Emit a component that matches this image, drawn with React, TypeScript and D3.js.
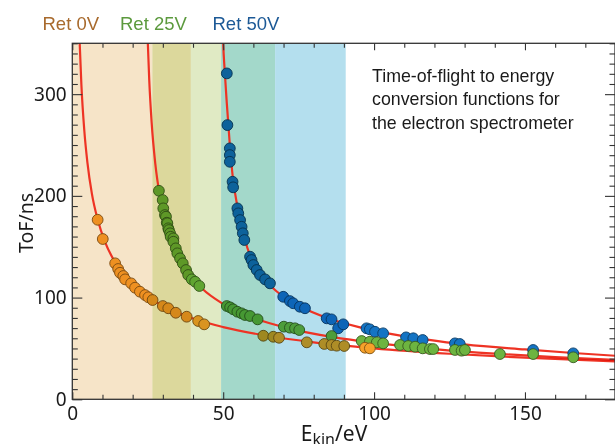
import React, { useEffect, useRef } from "react";
import * as d3 from "d3";

// legend / series names
const seriesNames = ["Ret 0V", "Ret 25V", "Ret 50V"];

// measured points [E_kin (eV), ToF (ns)]
const ret0Points: [number, number][] = [
	[8.4, 176.5], [10.1, 157.6], [14.2, 133.7], [15.2, 128.1], [15.8, 124.4], [16.9, 121.2],
	[17.5, 117.9], [19.5, 114], [20.8, 109.7], [22.4, 105.8], [24.1, 102.5], [25.2, 100.3],
	[26.6, 97.6], [30, 91.7], [31.8, 89.5], [34.3, 85.1], [37.9, 81.2], [41.7, 77],
	[43.7, 73.7], [63.3, 62.5], [66.6, 61.5], [68.5, 60.5], [77.7, 56], [83.5, 54.4],
	[85.9, 53.4], [87.6, 52.7], [90.1, 52.4], [97, 50.7], [98.6, 50.1]
];

const ret25Points: [number, number][] = [
	[28.7, 205], [29.95, 195.9], [30.15, 187.7], [30.7, 181.1], [31.05, 179.5], [31.3, 173.6],
	[31.5, 173], [31.8, 168.1], [32, 166.4], [32.4, 163.2], [32.6, 159.8], [33.5, 158.2],
	[33.5, 154.9], [34.3, 148.4], [34.8, 143.5], [35.7, 138.6], [36.6, 133.7], [37.7, 127.1],
	[38.4, 122.2], [39.6, 117.9], [40.7, 115.6], [42.1, 111.4], [51.2, 91.7], [52.3, 90.4],
	[53.3, 88.5], [54.7, 86.1], [56.1, 84.5], [57.2, 82.9], [58.9, 81.9], [61.4, 78.6],
	[70.1, 71.4], [72.1, 70.4], [73.8, 69.8], [75.2, 68.1], [85.9, 62.2], [95.9, 57.3],
	[98.6, 56.6], [100.9, 56], [103, 55], [108.6, 53.4], [111.3, 52.4], [113.6, 51.7],
	[116.1, 50.1], [118.5, 49.4], [119.6, 49.4], [126.8, 48.5], [129, 47.8], [130.1, 48.5],
	[141.7, 44.5], [152.7, 44.5], [166, 41.3]
];

const ret50Points: [number, number][] = [
	[51.2, 320.4], [51.4, 269.6], [52.2, 246.7], [52.2, 240.1], [52.2, 233.5], [53.1, 213.9],
	[53.3, 208.4], [54.7, 187.7], [55, 182.8], [55.6, 176.2], [56.1, 169.6], [56.5, 163.2],
	[57, 156.6], [58.9, 140.2], [59.4, 136.9], [60, 132], [61.1, 127.1], [62.2, 122.2],
	[63.9, 117.9], [65.5, 114], [69.9, 100.8], [72.1, 96.6], [73.2, 94.4], [75.4, 91],
	[77.1, 89.5], [84.3, 79.6], [85.9, 78.6], [88.1, 69.8], [89.8, 73.7], [97.5, 69.8],
	[98.6, 68.8], [100.3, 66.4], [103, 64.9], [110.6, 60.9], [113, 60], [116.1, 58.3],
	[126.8, 55], [128.4, 54.4], [152.7, 48.5], [166, 45.2]
];

// conversion curves, knots
const ret0Curve: [number, number][] = [
	[2.13, 380], [2.45, 350], [3, 310], [4, 263.5], [5, 233], [6.5, 202], [8.4, 176.8],
	[11, 153.6], [14, 135.6], [18, 119.2], [23, 105.2], [30, 91.9], [40, 79.4], [50, 71],
	[65, 62.2], [80, 56], [100, 50.1], [125, 44.8], [150, 40.9], [180, 37.3]
];
const ret25Curve: [number, number][] = [
	[24.74, 380], [25.03, 350], [25.5, 313.7], [26.3, 271.7], [27.5, 231.7], [29, 200],
	[31, 172.9], [34, 147.2], [38, 125.9], [43, 108.9], [50, 93.7], [60, 80], [72, 69.5],
	[86, 61.3], [100, 55.4], [120, 49.4], [140, 44.9], [160, 41.5], [180, 38.8]
];
const ret50Curve: [number, number][] = [
	[49.75, 375], [50, 350], [50.5, 323], [51.2, 291], [52.2, 250], [53.2, 218], [54.5, 193],
	[56, 172], [58, 149], [60.5, 132], [63.5, 119], [67, 108], [71, 99], [76, 90.5],
	[84, 80.5], [95, 71], [105, 64.5], [117, 59], [130, 54], [150, 49], [166, 45.5], [180, 42.8]
];

// shaded energy windows (overlaps already mixed)
const bandEdges = [0, 26.5, 39.3, 49.3, 67.2, 90.6];
const bandColors = ["#f6e4c8", "#dcd89c", "#e0eac4", "#a3d8ca", "#b4dfee"];

const xTicks = [0, 50, 100, 150];
const yTicks = [0, 100, 200, 300];

const noteLines = [
	"Time-of-flight to energy",
	"conversion functions for",
	"the electron spectrometer"
];

const pointColors = ["#f7a12a", "#6db440", "#1474c4"];
const legendColors = ["#a86a2d", "#5c9a3e", "#1c5996"];

function drawChart(node: SVGSVGElement) {
	while (node.firstChild) node.removeChild(node.firstChild);

	const left = 72.3, right = 615.5, top = 43.3, bottom = 399.3;
	const x = d3.scaleLinear().domain([0, 180]).range([left, right]);
	const y = d3.scaleLinear().domain([0, 350]).range([bottom, top]);

	const svg = d3.select(node);
	const tickFont = "'Noto Sans', sans-serif";
	const textFont = "'Liberation Sans', Arial, sans-serif";

	svg.append("defs").append("clipPath").attr("id", "plot-clip")
		.append("rect")
		.attr("x", left).attr("y", top)
		.attr("width", right - left).attr("height", bottom - top);

	// bands
	const bands = bandColors.map((c, i) => ({ from: bandEdges[i], to: bandEdges[i + 1], color: c }));
	svg.append("g")
		.selectAll("rect")
		.data(bands)
		.enter()
		.append("rect")
		.attr("x", d => x(d.from))
		.attr("y", top)
		.attr("width", d => x(d.to) - x(d.from))
		.attr("height", bottom - top)
		.attr("fill", d => d.color);

	const bandAt = (e: number) => {
		const b = bands.find(d => e >= d.from && e < d.to);
		return b ? b.color : "#ffffff";
	};
	const multiply = (a: string, b: string) => {
		const ca = d3.rgb(a), cb = d3.rgb(b);
		return d3.rgb((ca.r * cb.r) / 255, (ca.g * cb.g) / 255, (ca.b * cb.b) / 255);
	};

	// curves
	const line = d3.line<[number, number]>()
		.x(d => x(d[0]))
		.y(d => y(d[1]))
		.curve(d3.curveMonotoneX);

	svg.append("g")
		.attr("clip-path", "url(#plot-clip)")
		.selectAll("path")
		.data([ret0Curve, ret25Curve, ret50Curve])
		.enter()
		.append("path")
		.attr("d", d => line(d))
		.attr("fill", "none")
		.attr("stroke", "#ee3324")
		.attr("stroke-width", 2.2)
		.style("mix-blend-mode", "multiply");

	// points
	const series = [
		{ pts: ret50Points, color: pointColors[2] },
		{ pts: ret25Points, color: pointColors[1] },
		{ pts: ret0Points, color: pointColors[0] }
	];
	series.forEach(s => {
		svg.append("g")
			.selectAll("circle")
			.data(s.pts)
			.enter()
			.append("circle")
			.attr("cx", d => x(d[0]))
			.attr("cy", d => y(d[1]))
			.attr("r", 5.4)
			.attr("fill", d => multiply(s.color, bandAt(d[0])).toString())
			.attr("stroke", d => multiply(s.color, bandAt(d[0])).darker(1.9).toString())
			.attr("stroke-width", 0.9);
	});

	// axes, ticks inward
	const xMinor = d3.range(0, 181, 10);
	const yMinor = d3.range(0, 351, 10);

	const bottomAxis = svg.append("g")
		.attr("transform", `translate(0,${bottom})`)
		.call(d3.axisBottom(x).tickValues(xMinor).tickSizeInner(-4.5).tickSizeOuter(0).tickPadding(7)
			.tickFormat(d => (xTicks.includes(+d) ? String(d) : "")));
	bottomAxis.selectAll(".tick line").filter((d: any) => xTicks.includes(d)).attr("y2", -7);

	const topAxis = svg.append("g")
		.attr("transform", `translate(0,${top})`)
		.call(d3.axisTop(x).tickValues(xMinor).tickSizeInner(-4.5).tickSizeOuter(0).tickFormat(() => ""));
	topAxis.selectAll(".tick line").filter((d: any) => xTicks.includes(d)).attr("y2", 7);

	const leftAxis = svg.append("g")
		.attr("transform", `translate(${left},0)`)
		.call(d3.axisLeft(y).tickValues(yMinor).tickSizeInner(-5.5).tickSizeOuter(0).tickPadding(5.6)
			.tickFormat(d => (yTicks.includes(+d) ? String(d) : "")));
	leftAxis.selectAll(".tick line").filter((d: any) => yTicks.includes(d)).attr("x2", 10);

	const rightAxis = svg.append("g")
		.attr("transform", `translate(${right - 0.5},0)`)
		.call(d3.axisRight(y).tickValues(yMinor).tickSizeInner(-5.5).tickSizeOuter(0).tickFormat(() => ""));
	rightAxis.selectAll(".tick line").filter((d: any) => yTicks.includes(d)).attr("x2", -10);

	[bottomAxis, topAxis, leftAxis, rightAxis].forEach(a => {
		a.select(".domain").remove();
		a.selectAll(".tick line").attr("stroke", "#333").attr("stroke-width", 1.1);
		a.selectAll(".tick text")
			.attr("fill", "#1a1a1a")
			.style("font-family", tickFont)
			.style("font-size", "19px");
	});

	// frame
	svg.append("rect")
		.attr("x", left).attr("y", top)
		.attr("width", right - 0.5 - left).attr("height", bottom - top)
		.attr("fill", "none")
		.attr("stroke", "#333")
		.attr("stroke-width", 1.3);

	// axis titles (the bottom one runs off the page, as in the source)
	const xt = svg.append("text")
		.attr("x", 334).attr("y", 441)
		.attr("text-anchor", "middle")
		.attr("fill", "#1a1a1a")
		.style("font-family", tickFont)
		.style("font-size", "21px");
	xt.append("tspan").text("E");
	xt.append("tspan").attr("dy", 3.5).style("font-size", "16px").text("kin");
	xt.append("tspan").attr("dy", -3.5).text("/eV");

	svg.append("text")
		.attr("transform", `translate(33,223) rotate(-90)`)
		.attr("text-anchor", "middle")
		.attr("fill", "#1a1a1a")
		.style("font-family", tickFont)
		.style("font-size", "19.5px")
		.text("ToF/ns");

	// legend
	const legendX = [42.5, 120, 212.5];
	svg.append("g")
		.selectAll("text")
		.data(seriesNames)
		.enter()
		.append("text")
		.attr("x", (d, i) => legendX[i])
		.attr("y", 30)
		.attr("fill", (d, i) => legendColors[i])
		.style("font-family", textFont)
		.style("font-size", "18.5px")
		.text(d => d);

	// note
	svg.append("g")
		.selectAll("text")
		.data(noteLines)
		.enter()
		.append("text")
		.attr("x", 372)
		.attr("y", (d, i) => 81.5 + i * 23.5)
		.attr("fill", "#1a1a1a")
		.style("font-family", textFont)
		.style("font-size", "17.8px")
		.text(d => d);
}

export default function App() {
	const ref = useRef<SVGSVGElement>(null);
	useEffect(() => {
		if (ref.current) drawChart(ref.current);
	}, []);
	return (
		<svg
			ref={ref}
			width={615}
			height={444}
			style={{ position: "absolute", left: 0, top: 0, background: "#fff" }}
		/>
	);
}
